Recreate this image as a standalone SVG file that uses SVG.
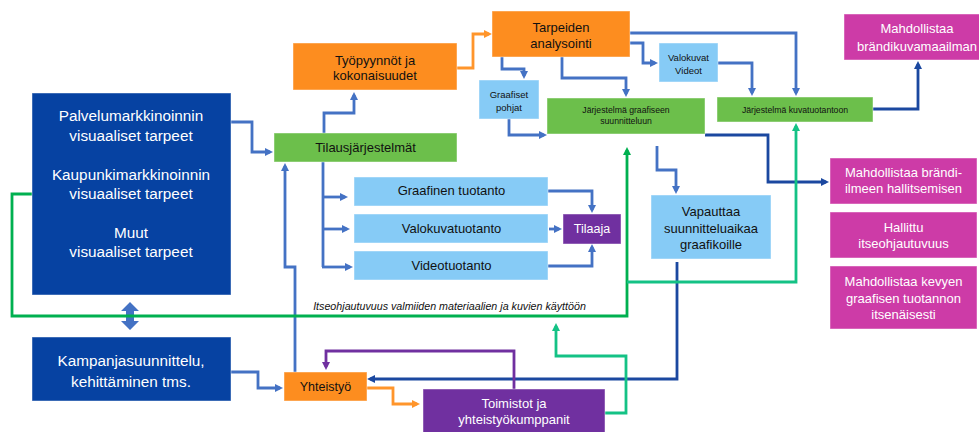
<svg xmlns="http://www.w3.org/2000/svg" width="979" height="432" viewBox="0 0 979 432">
  <defs>
    <style>
      text { font-family: "Liberation Sans", Arial, sans-serif; text-anchor: middle; }
      .box { stroke: #ffffff; stroke-opacity: 0.45; stroke-width: 1; }
      .navy { fill: #0642A2; }
      .green { fill: #6CBF4B; }
      .orange { fill: #FD8D1F; }
      .sky { fill: #86CBF6; }
      .purple { fill: #7030A0; }
      .magenta { fill: #CD3BA7; }
      .dark { fill: #111111; }
      .light { fill: #ffffff; }
      .c { fill: none; stroke-width: 2.8; stroke-linejoin: miter; stroke-linecap: butt; }
      .blue { stroke: #4472C4; }
      .deep { stroke: #1B48A0; }
      .grn { stroke: #00B050; }
      .teal { stroke: #14C285; }
      .org { stroke: #FF952B; }
      .vio { stroke: #7030A0; }
    </style>
    <marker id="ah-blue" markerUnits="userSpaceOnUse" viewBox="0 0 10 10" markerWidth="8" markerHeight="8" refX="6.25" refY="5" orient="auto">
      <path d="M0,0 L10,5 L0,10 z" fill="#4472C4"/>
    </marker>
    <marker id="ah-deep" markerUnits="userSpaceOnUse" viewBox="0 0 10 10" markerWidth="8" markerHeight="8" refX="6.25" refY="5" orient="auto">
      <path d="M0,0 L10,5 L0,10 z" fill="#1B48A0"/>
    </marker>
    <marker id="ah-grn" markerUnits="userSpaceOnUse" viewBox="0 0 10 10" markerWidth="8" markerHeight="8" refX="6.25" refY="5" orient="auto">
      <path d="M0,0 L10,5 L0,10 z" fill="#00B050"/>
    </marker>
    <marker id="ah-teal" markerUnits="userSpaceOnUse" viewBox="0 0 10 10" markerWidth="8" markerHeight="8" refX="6.25" refY="5" orient="auto">
      <path d="M0,0 L10,5 L0,10 z" fill="#14C285"/>
    </marker>
    <marker id="ah-org" markerUnits="userSpaceOnUse" viewBox="0 0 10 10" markerWidth="8" markerHeight="8" refX="6.25" refY="5" orient="auto">
      <path d="M0,0 L10,5 L0,10 z" fill="#FF952B"/>
    </marker>
    <marker id="ah-vio" markerUnits="userSpaceOnUse" viewBox="0 0 10 10" markerWidth="8" markerHeight="8" refX="6.25" refY="5" orient="auto">
      <path d="M0,0 L10,5 L0,10 z" fill="#7030A0"/>
    </marker>
  </defs>

  <rect width="979" height="432" fill="#ffffff"/>

  <!-- connectors -->
  <g id="connectors">
    <!-- blue flows -->
    <path class="c blue" d="M231,122 H252 V152 H270" marker-end="url(#ah-blue)"/>
    <path class="c blue" d="M324,133 V113 H354 V95" marker-end="url(#ah-blue)"/>
    <path class="c blue" d="M502,57 V69 H524 V76" marker-end="url(#ah-blue)"/>
    <path class="c blue" d="M562,57 V78 H626 V94" marker-end="url(#ah-blue)"/>
    <path class="c blue" d="M630,43 H643 V63 H655" marker-end="url(#ah-blue)"/>
    <path class="c blue" d="M630,33 H796 V93" marker-end="url(#ah-blue)"/>
    <path class="c blue" d="M718,63 H752 V93" marker-end="url(#ah-blue)"/>
    <path class="c blue" d="M509,119 V135 H544" marker-end="url(#ah-blue)"/>
    <path class="c blue" d="M657,146 V170 H676 V191" marker-end="url(#ah-blue)"/>
    <path class="c blue" d="M323,162 V267"/>
    <path class="c blue" d="M323,197 H345" marker-end="url(#ah-blue)"/>
    <path class="c blue" d="M323,229 H347" marker-end="url(#ah-blue)"/>
    <path class="c blue" d="M322,267 H350" marker-end="url(#ah-blue)"/>
    <path class="c blue" d="M548,191 H592 V210" marker-end="url(#ah-blue)"/>
    <path class="c blue" d="M549,229 H559" marker-end="url(#ah-blue)"/>
    <path class="c blue" d="M548,266 H592 V247" marker-end="url(#ah-blue)"/>
    <path class="c blue" d="M295,372 V267 H285 V166" marker-end="url(#ah-blue)"/>
    <path class="c blue" d="M231,372 H258 V388 H280" marker-end="url(#ah-blue)"/>
    <polygon points="130,302 139,311 134,311 134,321 139,321 130,330 121,321 126,321 126,311 121,311" fill="#4472C4"/>

    <!-- dark blue flows -->
    <path class="c deep" d="M873,109 H918 V64" marker-end="url(#ah-deep)"/>
    <path class="c deep" d="M705,135 H768 V182 H826" marker-end="url(#ah-deep)"/>
    <path class="c deep" d="M677,262 V379 H370" marker-end="url(#ah-deep)"/>

    <!-- self-service loop -->
    <path class="c grn" d="M32,194 H12 V316 H627 V150" marker-end="url(#ah-grn)"/>
    <path class="c teal" d="M627,282 H796 V126" marker-end="url(#ah-teal)"/>
    <path class="c teal" d="M605,413 H626 V356 H556 V326" marker-end="url(#ah-teal)"/>

    <!-- orange flows -->
    <path class="c org" d="M457,68 H473 V34 H489" marker-end="url(#ah-org)"/>
    <path class="c org" d="M367,388 H393 V404 H417" marker-end="url(#ah-org)"/>

    <!-- purple feedback -->
    <path class="c vio" d="M514,389 V351 H326 V367" marker-end="url(#ah-vio)"/>
  </g>

  <text x="449.5" y="309.5" font-size="10.7" font-style="italic" fill="#111">Itseohjautuvuus valmiiden materiaalien ja kuvien käyttöön</text>

  <!-- nodes -->
  <g id="tarpeet">
    <rect class="box navy" x="32" y="93" width="199" height="202"/>
    <text class="light" x="131" y="121" font-size="15.3">Palvelumarkkinoinnin</text>
    <text class="light" x="131" y="141" font-size="15.3">visuaaliset tarpeet</text>
    <text class="light" x="131" y="180" font-size="15.3">Kaupunkimarkkinoinnin</text>
    <text class="light" x="131" y="199" font-size="15.3">visuaaliset tarpeet</text>
    <text class="light" x="131" y="238" font-size="15.3">Muut</text>
    <text class="light" x="131" y="257" font-size="15.3">visuaaliset tarpeet</text>
  </g>

  <g id="kampanja">
    <rect class="box navy" x="32" y="337" width="199" height="64"/>
    <text class="light" x="131" y="366" font-size="15.3">Kampanjasuunnittelu,</text>
    <text class="light" x="131" y="387" font-size="15.3">kehittäminen tms.</text>
  </g>

  <g id="tilausjarjestelmat">
    <rect class="box green" x="274" y="133" width="183" height="29"/>
    <text class="dark" x="365.5" y="151.5" font-size="13">Tilausjärjestelmät</text>
  </g>

  <g id="tyopyynnot">
    <rect class="box orange" x="293" y="43" width="164" height="47"/>
    <text class="dark" x="375" y="64.5" font-size="13">Työpyynnöt ja</text>
    <text class="dark" x="375" y="80" font-size="13">kokonaisuudet</text>
  </g>

  <g id="tarpeiden-analysointi">
    <rect class="box orange" x="492" y="11" width="138" height="46"/>
    <text class="dark" x="561" y="31.5" font-size="13">Tarpeiden</text>
    <text class="dark" x="561" y="47.5" font-size="13">analysointi</text>
  </g>

  <g id="graafiset-pohjat">
    <rect class="box sky" x="479" y="80" width="60" height="39"/>
    <text class="dark" x="509" y="97.5" font-size="9.5">Graafiset</text>
    <text class="dark" x="509" y="110.5" font-size="9.5">pohjat</text>
  </g>

  <g id="valokuvat-videot">
    <rect class="box sky" x="659" y="43" width="59" height="39"/>
    <text class="dark" x="688.5" y="61" font-size="9.5">Valokuvat</text>
    <text class="dark" x="688.5" y="73.5" font-size="9.5">Videot</text>
  </g>

  <g id="jarjestelma-graafinen">
    <rect class="box green" x="547" y="98" width="158" height="36"/>
    <text class="dark" x="626" y="112.5" font-size="8.7">Järjestelmä graafiseen</text>
    <text class="dark" x="626" y="124" font-size="8.7">suunnitteluun</text>
  </g>

  <g id="jarjestelma-kuva">
    <rect class="box green" x="717" y="97" width="156" height="25"/>
    <text class="dark" x="795" y="112.5" font-size="8.7">Järjestelmä kuvatuotantoon</text>
  </g>

  <g id="brandikuvamaailma">
    <rect class="box magenta" x="844" y="14" width="146" height="46"/>
    <text class="light" x="917" y="32.5" font-size="13">Mahdollistaa</text>
    <text class="light" x="917" y="50.5" font-size="13">brändikuvamaailman</text>
  </g>

  <g id="brandi-ilme">
    <rect class="box magenta" x="830" y="158" width="147" height="46"/>
    <text class="light" x="903.5" y="176.5" font-size="13">Mahdollistaa brändi-</text>
    <text class="light" x="903.5" y="193" font-size="13">ilmeen hallitsemisen</text>
  </g>

  <g id="hallittu">
    <rect class="box magenta" x="830" y="212" width="147" height="46"/>
    <text class="light" x="903.5" y="232" font-size="13">Hallittu</text>
    <text class="light" x="903.5" y="248" font-size="13">itseohjautuvuus</text>
  </g>

  <g id="kevyt-tuotanto">
    <rect class="box magenta" x="830" y="266" width="147" height="63"/>
    <text class="light" x="903.5" y="285.5" font-size="13">Mahdollistaa kevyen</text>
    <text class="light" x="903.5" y="302.5" font-size="13">graafisen tuotannon</text>
    <text class="light" x="903.5" y="319" font-size="13">itsenäisesti</text>
  </g>

  <g id="vapauttaa">
    <rect class="box sky" x="651" y="195" width="120" height="64"/>
    <text class="dark" x="711" y="216" font-size="13">Vapauttaa</text>
    <text class="dark" x="711" y="232.5" font-size="13">suunnitteluaikaa</text>
    <text class="dark" x="711" y="248.5" font-size="13">graafikoille</text>
  </g>

  <g id="graafinen-tuotanto">
    <rect class="box sky" x="354" y="177" width="194" height="29"/>
    <text class="dark" x="451.5" y="195" font-size="13">Graafinen tuotanto</text>
  </g>

  <g id="valokuvatuotanto">
    <rect class="box sky" x="354" y="214" width="194" height="29"/>
    <text class="dark" x="451.5" y="232.5" font-size="13">Valokuvatuotanto</text>
  </g>

  <g id="videotuotanto">
    <rect class="box sky" x="354" y="251" width="194" height="29"/>
    <text class="dark" x="451.5" y="269.5" font-size="13">Videotuotanto</text>
  </g>

  <g id="tilaaja">
    <rect class="box purple" x="563" y="214" width="58" height="30"/>
    <text class="light" x="592" y="233" font-size="12.5">Tilaaja</text>
  </g>

  <g id="yhteistyo">
    <rect class="box orange" x="284" y="372" width="83" height="29"/>
    <text class="dark" x="325.5" y="391" font-size="12.5">Yhteistyö</text>
  </g>

  <g id="toimistot">
    <rect class="box purple" x="423" y="389" width="182" height="50"/>
    <text class="light" x="514" y="408" font-size="13">Toimistot ja</text>
    <text class="light" x="514" y="424" font-size="13">yhteistyökumppanit</text>
  </g>
</svg>
